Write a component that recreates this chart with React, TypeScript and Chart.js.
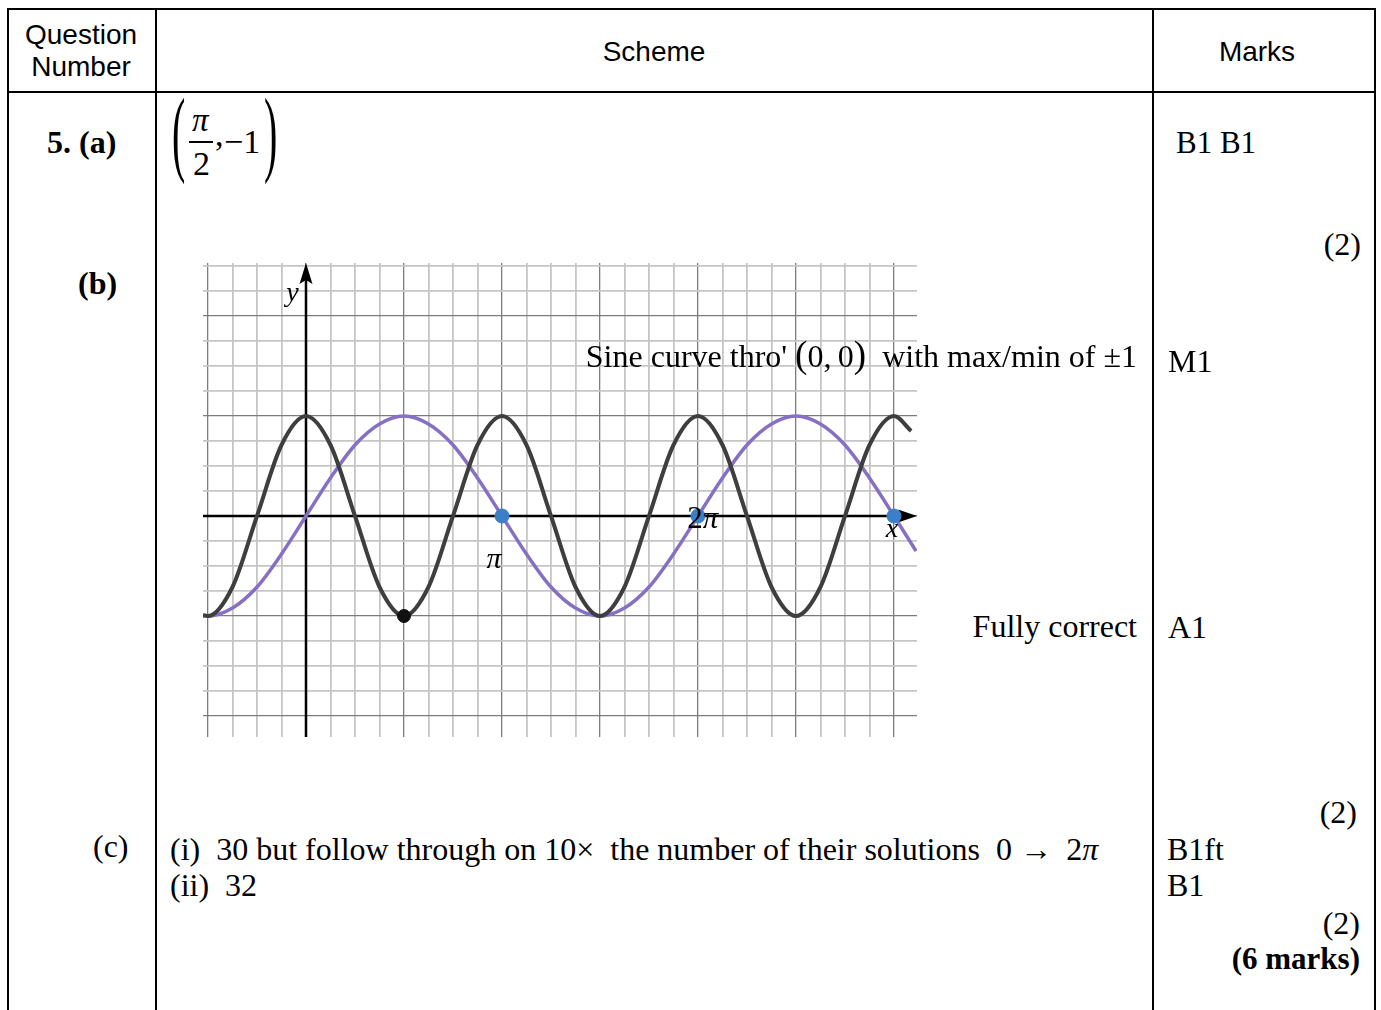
import React, { useEffect, useRef } from "react";
import { Chart, registerables } from "chart.js";
Chart.register(...registerables);

// ---- data (x measured in eighths of π) ----
const SINE_X = [-4.2, -4, -3, -2, -1, 0, 1, 2, 3, 4, 5, 6, 7, 8, 9, 10, 11, 12, 13, 14, 15, 16, 17, 18, 19, 20, 21, 22, 23, 24, 24.9];
const SINE_Y = [-1.0, -1, -0.92, -0.71, -0.38, 0, 0.38, 0.71, 0.92, 1, 0.92, 0.71, 0.38, 0, -0.38, -0.71, -0.92, -1, -0.92, -0.71, -0.38, 0, 0.38, 0.71, 0.92, 1, 0.92, 0.71, 0.38, 0, -0.35];
const COS2_X = [-4.2, -4, -3, -2, -1, 0, 1, 2, 3, 4, 5, 6, 7, 8, 9, 10, 11, 12, 13, 14, 15, 16, 17, 18, 19, 20, 21, 22, 23, 24, 24.7];
const COS2_Y = [-0.99, -1, -0.71, 0, 0.71, 1, 0.71, 0, -0.71, -1, -0.71, 0, 0.71, 1, 0.71, 0, -0.71, -1, -0.71, 0, 0.71, 1, 0.71, 0, -0.71, -1, -0.71, 0, 0.71, 1, 0.85];
const BLACK_DOT_X = [4];
const BLACK_DOT_Y = [-1];
const BLUE_DOT_X = [8, 16, 24];
const BLUE_DOT_Y = [0, 0, 0];
const GRID_X = [-4, -3, -2, -1, 0, 1, 2, 3, 4, 5, 6, 7, 8, 9, 10, 11, 12, 13, 14, 15, 16, 17, 18, 19, 20, 21, 22, 23, 24];
const GRID_Y = [-2, -1.75, -1.5, -1.25, -1, -0.75, -0.5, -0.25, 0, 0.25, 0.5, 0.75, 1, 1.25, 1.5, 1.75, 2, 2.25, 2.5];
const X_MIN = -4.204;
const X_MAX = 24.94;
const Y_MIN = -2.21;
const Y_MAX = 2.53;

const AXIS_LABELS = [
  { parts: [{ t: "y", italic: true }], x: -0.55, y: 2.22, size: 28 },
  { parts: [{ t: "π", italic: true }], x: 7.67, y: -0.44, size: 30 },
  { parts: [{ t: "2", italic: false }, { t: "π", italic: true }], x: 16.2, y: -0.04, size: 31 },
  { parts: [{ t: "x", italic: true }], x: 23.92, y: -0.14, size: 28 },
];

const SERIF = '"Liberation Serif", "Times New Roman", serif';
const SANS = '"Liberation Sans", Arial, sans-serif';

const axesPlugin = {
  id: "axesArrows",
  beforeDatasetsDraw(chart: any) {
    const { ctx, chartArea, scales } = chart;
    const x0 = scales.x.getPixelForValue(0);
    const y0 = scales.y.getPixelForValue(0);
    ctx.save();
    ctx.strokeStyle = "#000";
    ctx.fillStyle = "#000";
    ctx.lineWidth = 2.5;
    ctx.beginPath();
    ctx.moveTo(chartArea.left, y0);
    ctx.lineTo(chartArea.right - 10, y0);
    ctx.stroke();
    ctx.beginPath();
    ctx.moveTo(chartArea.right, y0);
    ctx.lineTo(chartArea.right - 19, y0 - 6.5);
    ctx.lineTo(chartArea.right - 15, y0);
    ctx.lineTo(chartArea.right - 19, y0 + 6.5);
    ctx.closePath();
    ctx.fill();
    ctx.beginPath();
    ctx.moveTo(x0, chartArea.bottom);
    ctx.lineTo(x0, chartArea.top + 12);
    ctx.stroke();
    ctx.beginPath();
    ctx.moveTo(x0, chartArea.top);
    ctx.lineTo(x0 - 6.5, chartArea.top + 21);
    ctx.lineTo(x0, chartArea.top + 17);
    ctx.lineTo(x0 + 6.5, chartArea.top + 21);
    ctx.closePath();
    ctx.fill();
    ctx.restore();
  },
  afterDatasetsDraw(chart: any) {
    const { ctx, scales } = chart;
    ctx.save();
    ctx.fillStyle = "#000";
    ctx.textBaseline = "middle";
    for (const lab of AXIS_LABELS) {
      const px = scales.x.getPixelForValue(lab.x);
      const py = scales.y.getPixelForValue(lab.y);
      let total = 0;
      const widths: number[] = [];
      for (const p of lab.parts) {
        ctx.font = `${p.italic ? "italic " : ""}${lab.size}px ${SERIF}`;
        const w = ctx.measureText(p.t).width;
        widths.push(w);
        total += w;
      }
      let cx = px - total / 2;
      lab.parts.forEach((p, i) => {
        ctx.font = `${p.italic ? "italic " : ""}${lab.size}px ${SERIF}`;
        ctx.textAlign = "left";
        ctx.fillText(p.t, cx, py);
        cx += widths[i];
      });
    }
    ctx.restore();
  },
};

function SineChart() {
  const ref = useRef<HTMLCanvasElement | null>(null);
  useEffect(() => {
    if (!ref.current) return;
    const pts = (xs: number[], ys: number[]) => xs.map((x, i) => ({ x, y: ys[i] }));
    const chart = new Chart(ref.current, {
      type: "line",
      data: {
        datasets: [
          {
            type: "scatter",
            data: pts(BLUE_DOT_X, BLUE_DOT_Y),
            backgroundColor: "#3b7fc6",
            borderColor: "#3b7fc6",
            pointRadius: 7,
            showLine: false,
          } as any,
          {
            type: "scatter",
            data: pts(BLACK_DOT_X, BLACK_DOT_Y),
            backgroundColor: "#111",
            borderColor: "#111",
            pointRadius: 6.5,
            showLine: false,
          } as any,
          {
            data: pts(COS2_X, COS2_Y),
            borderColor: "#3e3e3e",
            borderWidth: 4,
            pointRadius: 0,
            cubicInterpolationMode: "monotone",
            fill: false,
          },
          {
            data: pts(SINE_X, SINE_Y),
            borderColor: "#8670c4",
            borderWidth: 3.5,
            pointRadius: 0,
            cubicInterpolationMode: "monotone",
            fill: false,
          },
        ],
      },
      options: {
        responsive: false,
        animation: false,
        events: [],
        layout: { padding: 0, autoPadding: false },
        plugins: { legend: { display: false }, tooltip: { enabled: false } },
        scales: {
          x: {
            type: "linear",
            min: X_MIN,
            max: X_MAX,
            afterBuildTicks: (s: any) => {
              s.ticks = GRID_X.map((v) => ({ value: v }));
            },
            ticks: { display: false },
            border: { display: false },
            grid: {
              drawTicks: false,
              color: (c: any) => (c.tick && c.tick.value % 4 === 0 ? "#7c7c7c" : "#c6c6c6"),
              lineWidth: (c: any) => (c.tick && c.tick.value % 4 === 0 ? 1.3 : 1.8),
            },
          },
          y: {
            type: "linear",
            min: Y_MIN,
            max: Y_MAX,
            afterBuildTicks: (s: any) => {
              s.ticks = GRID_Y.map((v) => ({ value: v }));
            },
            ticks: { display: false },
            border: { display: false },
            grid: {
              drawTicks: false,
              color: (c: any) => (c.tick && Number.isInteger(c.tick.value) ? "#7c7c7c" : "#c6c6c6"),
              lineWidth: (c: any) => (c.tick && Number.isInteger(c.tick.value) ? 1.3 : 1.8),
            },
          },
        },
      } as any,
      plugins: [axesPlugin],
    });
    return () => chart.destroy();
  }, []);
  return (
    <canvas
      ref={ref}
      width={714}
      height={474}
      style={{ position: "absolute", left: 203, top: 263, width: 714, height: 474, display: "block" }}
    />
  );
}

type TxtProps = {
  x: number;
  base: number;
  size: number;
  serif?: boolean;
  bold?: boolean;
  italic?: boolean;
  align?: "left" | "right" | "center";
  children: React.ReactNode;
};

function Txt({ x, base, size, serif = true, bold, italic, align = "left", children }: TxtProps) {
  const k = serif ? 0.8375 : 0.8465;
  const style: React.CSSProperties = {
    position: "absolute",
    top: base - k * size,
    fontFamily: serif ? SERIF : SANS,
    fontSize: size,
    lineHeight: `${size}px`,
    fontWeight: bold ? "bold" : "normal",
    fontStyle: italic ? "italic" : "normal",
    whiteSpace: "pre",
    color: "#000",
  };
  if (align === "left") style.left = x;
  else if (align === "right") style.right = 1381 - x;
  else {
    style.left = x - 500;
    style.width = 1000;
    style.textAlign = "center";
  }
  return <div style={style}>{children}</div>;
}

function BigParen({ ch, left, cy, size = 40, scale = 2.4 }: { ch: string; left: number; cy: number; size?: number; scale?: number }) {
  const top = cy - 0.5875 * size;
  return (
    <div
      style={{
        position: "absolute",
        left,
        top,
        fontFamily: SERIF,
        fontSize: size,
        lineHeight: `${size}px`,
        transform: `scaleY(${scale})`,
        transformOrigin: `50% ${0.5875 * size}px`,
      }}
    >
      {ch}
    </div>
  );
}

const bigP: React.CSSProperties = { fontSize: 37, lineHeight: "0px" };
const it: React.CSSProperties = { fontStyle: "italic" };

function Line({ left, top, width, height }: { left: number; top: number; width: number; height: number }) {
  return <div style={{ position: "absolute", left, top, width, height, background: "#000" }} />;
}

export default function App() {
  return (
    <div style={{ position: "absolute", left: 0, top: 0, width: 1381, height: 1010, overflow: "hidden", background: "#fff" }}>
      {/* table rules */}
      <Line left={7} top={8} width={1369} height={2} />
      <Line left={7} top={91} width={1369} height={2} />
      <Line left={7} top={8} width={2} height={1010} />
      <Line left={155} top={8} width={2} height={1010} />
      <Line left={1152} top={8} width={2} height={1010} />
      <Line left={1374} top={8} width={2} height={1010} />

      {/* header */}
      <Txt x={81} base={45} size={28} serif={false} align="center">Question</Txt>
      <Txt x={81} base={77} size={28} serif={false} align="center">Number</Txt>
      <Txt x={654} base={62} size={28} serif={false} align="center">Scheme</Txt>
      <Txt x={1257} base={62} size={28} serif={false} align="center">Marks</Txt>

      {/* (a) */}
      <Txt x={47} base={153} size={32} bold>5. (a)</Txt>
      <BigParen ch="(" left={172} cy={141.5} />
      <Txt x={192} base={131.5} size={33} italic>π</Txt>
      <Line left={189} top={141} width={24} height={1.5} />
      <Txt x={193} base={175} size={34}>2</Txt>
      <Txt x={215} base={146} size={34}>,</Txt>
      <Txt x={224} base={153} size={34}>−1</Txt>
      <BigParen ch=")" left={264} cy={141.5} />
      <Txt x={1176} base={153} size={31}>B1 B1</Txt>
      <Txt x={1361} base={255} size={32} align="right">(2)</Txt>

      {/* (b) */}
      <Txt x={78} base={294} size={32} bold>(b)</Txt>
      <SineChart />
      <Txt x={1137} base={367} size={32} align="right">
        {"Sine curve thro' "}
        <span style={bigP}>(</span>
        {"0,\u20090"}
        <span style={bigP}>)</span>
        {"  with max/min of ±1"}
      </Txt>
      <Txt x={1168} base={372} size={32}>M1</Txt>
      <Txt x={1137} base={637} size={32} align="right">Fully correct</Txt>
      <Txt x={1168} base={638} size={32}>A1</Txt>
      <Txt x={1357} base={823} size={32} align="right">(2)</Txt>

      {/* (c) */}
      <Txt x={93} base={857} size={32}>(c)</Txt>
      <Txt x={170} base={860} size={32}>
        {"(i)  30 but follow through on "}
        <span>{"10× "}</span>
        {" the number of their solutions  0 \u2192\u2009 2"}
        <span style={it}>π</span>
      </Txt>
      <Txt x={170} base={896} size={32}>{"(ii)  32"}</Txt>
      <Txt x={1167} base={860} size={32}>B1ft</Txt>
      <Txt x={1167} base={896} size={32}>B1</Txt>
      <Txt x={1360} base={934} size={32} align="right">(2)</Txt>
      <Txt x={1360} base={969} size={31} bold align="right">(6 marks)</Txt>
    </div>
  );
}
